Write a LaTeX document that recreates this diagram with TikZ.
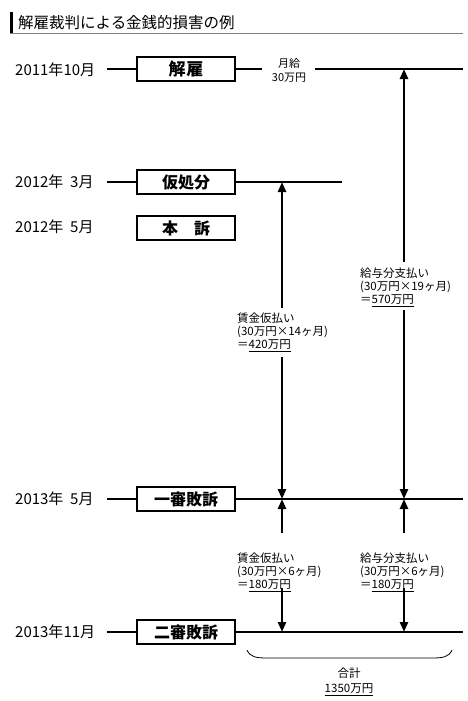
\documentclass[tikz,border=0pt]{standalone}
\usepackage{fontspec}
\setmainfont{Noto Sans CJK JP}
\usetikzlibrary{arrows.meta}
\begin{document}
\begin{tikzpicture}[x=1pt,y=-1pt,
  date/.style={anchor=west, font=\fontsize{15}{17}\selectfont, inner sep=0},
  box/.style={draw, line width=1.2pt, minimum width=98pt, minimum height=24pt, inner sep=0, font=\fontsize{16}{18}\selectfont\bfseries},
  tl/.style={line width=1.8pt},
  arr/.style={line width=2.6pt, -{Triangle[length=10pt,width=8pt]}},
  note/.style={anchor=north west, align=left, inner sep=0, font=\fontsize{11.5}{13}\selectfont},
]
\useasboundingbox (0,0) rectangle (468,701);
% title
\fill (10,12) rectangle (13,33);
\node[anchor=west, inner sep=0, font=\fontsize{15.5}{17}\selectfont] (title) at (18,23) {解雇裁判による金銭的損害の例};
\draw[line width=0.6pt, gray] (10,33) -- (463,33);

% rows
\node[date] (d1) at (15,70) {2011年10月};
\node[date] (d2) at (15,182) {2012年\ \ 3月};
\node[date] (d3) at (15,227) {2012年\ \ 5月};
\node[date] (d4) at (15,499) {2013年\ \ 5月};
\node[date] (d5) at (15,632) {2013年11月};

\node[box, font=\fontsize{17}{18}\selectfont\bfseries] (b1) at (186,69) {解\hspace{1pt}雇};
\node[box] (b2) at (186,182) {仮処分};
\node[box] (b3) at (186,228) {本\hspace{1em}訴};
\node[box] (b4) at (186,499) {一審敗訴};
\node[box] (b5) at (186,632) {二審敗訴};

\coordinate (s1) at (107,69);
\coordinate (s2) at (107,182);
\coordinate (s4) at (107,499);
\coordinate (s5) at (107,632);

\node[align=center, inner sep=0, font=\fontsize{11}{14}\selectfont] (pay) at (289,70) {月給\\30万円};
\coordinate (e1a) at (262,69);
\coordinate (e1b) at (315,69);
\coordinate (e1) at (463,69);
\coordinate (e2) at (342,182);
\coordinate (e4) at (463,499);
\coordinate (e5) at (463,632);

\draw[tl] (s1) -- (b1.west);
\draw[tl] (b1.east) -- (e1a);
\draw[tl] (e1b) -- (e1);
\draw[tl] (s2) -- (b2.west);
\draw[tl] (b2.east) -- (e2);
\draw[tl] (s4) -- (b4.west);
\draw[tl] (b4.east) -- (e4);
\draw[tl] (s5) -- (b5.west);
\draw[tl] (b5.east) -- (e5);

% arrow points
\coordinate (pA2) at (282,182);
\coordinate (pB1) at (404,69);
\coordinate (pA4) at (282,499);
\coordinate (pB4) at (404,499);
\coordinate (pA5) at (282,632);
\coordinate (pB5) at (404,632);

% notes
\node[note] (n1) at (237,313) {賃金仮払い\\(30万円×14ヶ月)\\＝\underline{420万円}};
\node[note] (n2) at (360,268) {給与分支払い\\(30万円×19ヶ月)\\＝\underline{570万円}};
\node[note] (n3) at (237,553) {賃金仮払い\\(30万円×6ヶ月)\\＝\underline{180万円}};
\node[note] (n4) at (360,553) {給与分支払い\\(30万円×6ヶ月)\\＝\underline{180万円}};

\coordinate (a1t) at (282,308);
\coordinate (a1b) at (282,357);
\coordinate (a2t) at (404,262);
\coordinate (a2b) at (404,310);
\coordinate (a3t) at (282,533);
\coordinate (a3b) at (282,588);
\coordinate (a4t) at (404,533);
\coordinate (a4b) at (404,588);

\draw[arr] (a1t) -- (pA2);
\draw[arr] (a1b) -- (pA4);
\draw[arr] (a2t) -- (pB1);
\draw[arr] (a2b) -- (pB4);
\draw[arr] (a3t) -- (pA4);
\draw[arr] (a3b) -- (pA5);
\draw[arr] (a4t) -- (pB4);
\draw[arr] (a4b) -- (pB5);

% brace
\coordinate (brL) at (247,650);
\coordinate (brR) at (452,650);
\draw[line width=0.8pt] (brL) .. controls (250,657) and (256,658) .. (267,658) -- (432,658) .. controls (443,658) and (449,657) .. (brR);
\node[align=center, inner sep=0, font=\fontsize{11.5}{15}\selectfont] (sum) at (349,682) {合計\\\underline{1350万円}};
\end{tikzpicture}
\end{document}
